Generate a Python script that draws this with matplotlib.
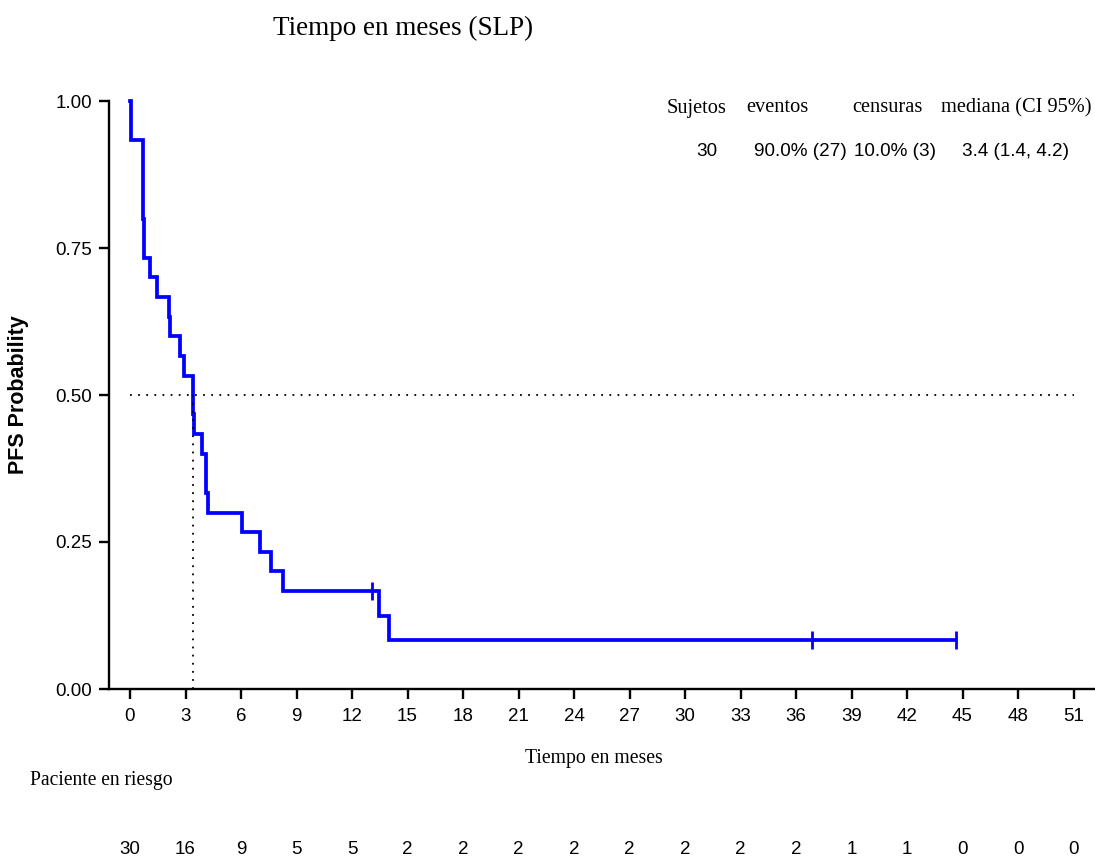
import matplotlib
matplotlib.use("Agg")
import matplotlib.pyplot as plt

# Kaplan-Meier step curve (months, survival level after each step)
step_times = [0.0, 0.05, 0.69, 0.71, 0.75, 1.08, 1.48, 2.12, 2.16, 2.70, 2.92,
              3.39, 3.41, 3.45, 3.87, 4.09, 4.12, 4.19, 6.03, 7.02, 7.60, 8.28,
              13.47, 14.01, 44.65]
step_surv = [1.000, 0.933, 0.867, 0.800, 0.733, 0.700, 0.667, 0.633, 0.600, 0.567, 0.533,
             0.500, 0.467, 0.433, 0.400, 0.367, 0.333, 0.300, 0.267, 0.233, 0.200, 0.167,
             0.125, 0.083, 0.083]
censor_times = [13.09, 36.86, 44.65]
censor_surv = [0.167, 0.083, 0.083]

median_time = 3.4
tick_months = list(range(0, 52, 3))
at_risk = [30, 16, 9, 5, 5, 2, 2, 2, 2, 2, 2, 2, 2, 1, 1, 0, 0, 0]

header = ["Sujetos", "eventos", "censuras", "mediana (CI 95%)"]
summary = ["30", "90.0% (27)", "10.0% (3)", "3.4 (1.4, 4.2)"]

serif = ["Liberation Serif", "DejaVu Serif"]
sans = ["Liberation Sans", "DejaVu Sans"]

W, H = 1095, 860
fig = plt.figure(figsize=(W / 100, H / 100), dpi=100)
ax = fig.add_axes([109 / W, (H - 689) / H, (1095 - 109) / W, (689 - 101) / H])

ax.step(step_times, step_surv, where="post", color="#0000ff", lw=2.7, clip_on=False,
        solid_joinstyle="miter")
ax.plot(censor_times, censor_surv, ls="none", marker="|", ms=13, mew=2,
        color="#0000ff", clip_on=False)

# median reference lines
dots = (0, (1, 3.5))
ax.plot([0, 51], [0.5, 0.5], color="black", lw=1.3, ls=dots)
ax.plot([median_time, median_time], [0, 0.5], color="black", lw=1.3, ls=dots)

ax.set_xlim(-1.135, 52.16)
ax.set_ylim(0, 1.0)
ax.set_xticks(tick_months)
ax.set_yticks([0, 0.25, 0.5, 0.75, 1.0])
ax.set_yticklabels(["0.00", "0.25", "0.50", "0.75", "1.00"])
for sp in ["top", "right"]:
    ax.spines[sp].set_visible(False)
for sp in ["left", "bottom"]:
    ax.spines[sp].set_linewidth(1.7)
ax.tick_params(axis="both", direction="out", length=7, width=1.7, labelsize=13.5)
ax.tick_params(axis="x", pad=7)
ax.tick_params(axis="y", pad=5)
for lab in ax.get_xticklabels() + ax.get_yticklabels():
    lab.set_family(sans)

ax.set_ylabel("PFS Probability", fontsize=15.5, fontweight="bold", family=sans)
ax.yaxis.set_label_coords(-80 / 986, 0.5)

fig.text(403 / W, 1 - 28 / H, "Tiempo en meses (SLP)", family=serif, fontsize=19.5,
         ha="center", va="center")
fig.text(594 / W, 1 - 759 / H, "Tiempo en meses", family=serif, fontsize=14.2,
         ha="center", va="center")
fig.text(30 / W, 1 - 781 / H, "Paciente en riesgo", family=serif, fontsize=14.1,
         ha="left", va="center")

# summary table in the upper right
header_x = [697, 777, 887, 1016]
summary_x = [707, 800, 895, 1015]
for x, s in zip(header_x, header):
    fig.text(x / W, 1 - 108 / H, s, family=serif, fontsize=14.7, ha="center", va="center")
for x, s in zip(summary_x, summary):
    fig.text(x / W, 1 - 151 / H, s, family=sans, fontsize=13.6, ha="center", va="center")

# number at risk row
for m, n in zip(tick_months, at_risk):
    xd = ax.transData.transform((m, 0))[0]
    fig.text(xd / W, 1 - 850 / H, str(n), family=sans, fontsize=13.5,
             ha="center", va="center")

fig.savefig("out.png", dpi=100)
